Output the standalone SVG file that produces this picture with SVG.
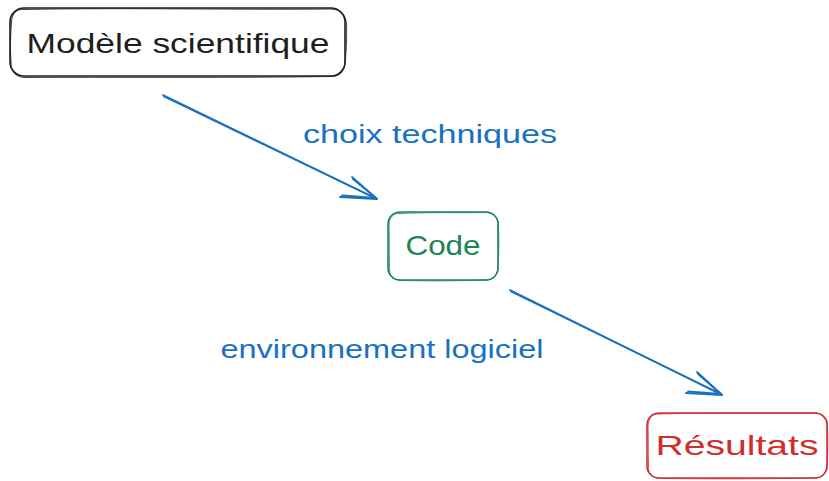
<svg xmlns="http://www.w3.org/2000/svg" width="829" height="481" viewBox="0 0 829 481">
  <style>
    .sketch { fill: none; stroke-width: 1.6; stroke-linecap: round; stroke-linejoin: round; }
    .sketch2 { fill: none; stroke-width: 1; stroke-linecap: round; stroke-linejoin: round; opacity: 0.85; }
    .lbl { font-family: "Liberation Sans", "DejaVu Sans", sans-serif; }
    .node-text { font-size: 28px; text-anchor: middle; }
    .edge-text { font-size: 25px; fill: #1971c2; text-anchor: middle; }
    .edge { fill: none; stroke: #1971c2; stroke-width: 1.8; stroke-linecap: round; stroke-linejoin: round; }
    .black { stroke: #1e1e1e; }
    .green { stroke: #1a8656; }
    .red { stroke: #cf2e2e; }
  </style>
  <rect width="829" height="481" fill="#ffffff"/>

  <!-- node: Modèle scientifique -->
  <g id="node-modele">
    <rect class="sketch black" x="10" y="8" width="335" height="68" rx="14"/>
    <path class="sketch2 black" d="M24 9.5 C120 7.5 240 10 331 9 C341 9.5 346 15 346.5 24 C347 40 346 55 345 63 C344.5 72 339 77 330 76.5 C230 78 110 77 25 77.5 C15 77 10.5 71 11 62 C10 48 10.5 35 11.5 22 C12 13 17 8.5 24 9.5"/>
    <text class="lbl node-text" x="178" y="53" fill="#1e1e1e" textLength="303" lengthAdjust="spacingAndGlyphs">Modèle scientifique</text>
  </g>

  <!-- node: Code -->
  <g id="node-code">
    <rect class="sketch green" x="388" y="212" width="110" height="68" rx="12"/>
    <path class="sketch2 green" d="M400 213.5 C430 212 465 213 486 212.5 C494 213 499 218 498.5 226 C499 240 499 255 498 267 C497.5 276 493 280.5 485 280 C460 281 425 281 401 280.5 C393 280 388.5 275 389.5 267 C389 252 389.5 238 389 225 C389.5 217 393 213 400 213.5"/>
    <text class="lbl node-text" x="443" y="255" fill="#1a8656" textLength="75" lengthAdjust="spacingAndGlyphs">Code</text>
  </g>

  <!-- node: Résultats -->
  <g id="node-resultats">
    <rect class="sketch red" x="647" y="413" width="180" height="65" rx="12"/>
    <path class="sketch2 red" d="M659 414 C710 412.5 770 413.5 815 413 C823 413.5 828 418 827.5 426 C828 440 828 453 827 465 C826.5 474 822 478.5 814 478 C770 479 710 479 660 478.5 C652 478 647.5 473 648.5 465 C648 452 648.5 440 648 426 C648.5 418 652 413.5 659 414"/>
    <text class="lbl node-text" x="737" y="455" fill="#cf2e2e" textLength="163" lengthAdjust="spacingAndGlyphs">Résultats</text>
  </g>

  <!-- connectors -->
  <g id="connectors">
    <g id="edge-modele-code">
      <path class="edge" d="M163 95 L377 199"/>
      <path class="edge" d="M164 96.5 L376 198.5" stroke-width="1"/>
      <path class="edge" d="M352 177 L377 199 L340 197"/>
      <path class="edge" d="M353 179 L376 198 L342 195.5" stroke-width="1"/>
    </g>
    <g id="edge-code-resultats">
      <path class="edge" d="M510 290 L722 395"/>
      <path class="edge" d="M511 291.5 L721 394" stroke-width="1"/>
      <path class="edge" d="M697 372 L722 395 L686 393"/>
      <path class="edge" d="M698 374 L721 394 L688 391.5" stroke-width="1"/>
    </g>
    <text class="lbl edge-text" x="430" y="143" textLength="254" lengthAdjust="spacingAndGlyphs">choix techniques</text>
    <text class="lbl edge-text" x="382" y="358" textLength="323" lengthAdjust="spacingAndGlyphs">environnement logiciel</text>
  </g>
</svg>
